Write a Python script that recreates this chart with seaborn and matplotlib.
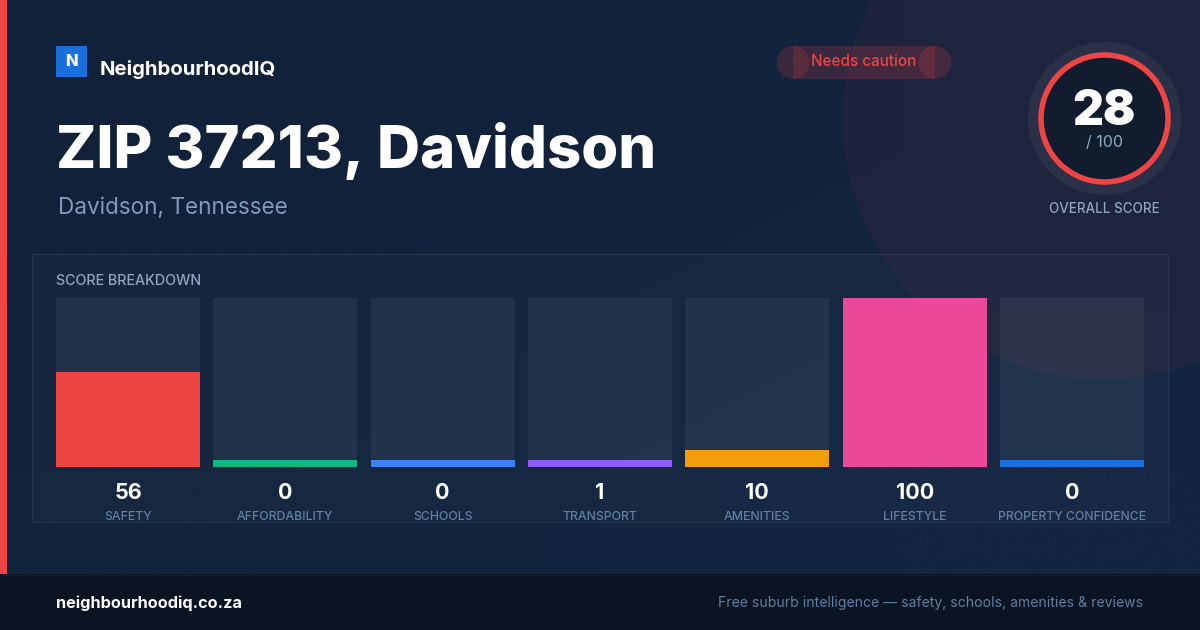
import numpy as np
import pandas as pd
import matplotlib.pyplot as plt
import seaborn as sns
from matplotlib.patches import Circle, Rectangle

categories = ["SAFETY", "AFFORDABILITY", "SCHOOLS", "TRANSPORT", "AMENITIES", "LIFESTYLE", "PROPERTY CONFIDENCE"]
scores = [56, 0, 0, 1, 10, 100, 0]
bar_colors = ["#ef4444", "#10b981", "#3b82f6", "#8b5cf6", "#f59e0b", "#ec4899", "#1a6fdc"]
overall_score = 28
score_max = 100
# short stub so a zero score still shows on the card
min_bar = 4

W, H = 1200, 630
PX = 0.72  # px to pt at dpi 100

sns.set_theme(style="white")
plt.rcParams["font.family"] = ["Inter", "DejaVu Sans"]

fig = plt.figure(figsize=(W / 100, H / 100), dpi=100)
bg = fig.add_axes([0, 0, 1, 1])
bg.axis("off")

# background gradient
grad = np.array([[0.0, 0.5], [0.5, 1.0]])
c0, c1 = np.array([0x12, 0x21, 0x3a]), np.array([0x13, 0x25, 0x41])
img = c0[None, None, :] + (c1 - c0)[None, None, :] * grad[:, :, None]
bg.imshow(img / 255, extent=[0, W, H, 0], aspect="auto", interpolation="bilinear", zorder=0)
bg.set_xlim(0, W)
bg.set_ylim(H, 0)

bg.add_patch(Circle((1103, 119), 260, fc="#ef4444", alpha=0.055, ec="none", zorder=1))

# panel
bg.add_patch(Rectangle((32, 254), 1136, 268, fc="white", alpha=0.02, ec="none", zorder=2))
bg.add_patch(Rectangle((32, 254), 1136, 268, fc="none", ec=(1, 1, 1, 0.07), lw=0.8, zorder=2))

# dot texture
xs, ys = np.meshgrid(np.arange(24, W, 32), np.arange(24, H, 32))
bg.scatter(xs.ravel(), ys.ravel(), s=1.2, c="white", alpha=0.035, linewidths=0, zorder=3)

# accent + footer
bg.add_patch(Rectangle((0, 0), 7, 574, fc="#ef4444", ec="none", zorder=4))
bg.add_patch(Rectangle((0, 574), W, 56, fc="#0a1422", ec="none", zorder=4))
bg.plot([0, W], [574.5, 574.5], color="#14202f", lw=0.8, zorder=5)

# logo + header text
bg.add_patch(Rectangle((56, 46), 31, 31, fc="#1a6fdc", ec="none", zorder=5))
bg.text(71.5, 61, "N", color="white", fontsize=16.5 * PX, fontweight="heavy", ha="center", va="center", zorder=6)
bg.text(100, 75, "NeighbourhoodIQ", color="white", fontsize=20.35 * PX, fontweight="bold", va="baseline", zorder=6)
bg.text(56, 168, "ZIP 37213, Davidson", color="white", fontsize=59.7 * PX, fontweight="heavy", va="baseline", zorder=6)
bg.text(58, 214, "Davidson, Tennessee", color="#7f9abb", fontsize=22.55 * PX, va="baseline", zorder=6)

# pill
bg.add_patch(Rectangle((793, 46), 142, 33, fc="#ef4444", alpha=0.18, ec="none", zorder=5))
for cx in (793, 935):
    bg.add_patch(Circle((cx, 62.5), 16.5, fc="#ef4444", alpha=0.18, ec="none", zorder=5))
bg.text(863.5, 62, "Needs caution", color="#ef4444", fontsize=15.2 * PX, fontweight="medium", ha="center", va="center", zorder=6)

# gauge
bg.add_patch(Circle((1104.5, 118.5), 76.5, fc=(1, 1, 1, 0.055), ec="none", zorder=5))
bg.add_patch(Circle((1104.5, 118.5), 63.5, fc="#111c2e", ec="#ef4444", lw=5.5 * PX, zorder=6))
bg.text(1104, 125, str(overall_score), color="white", fontsize=48 * PX, fontweight="black", ha="center", va="baseline", zorder=7)
bg.text(1104, 147, f"/ {score_max}", color="#8fa6c2", fontsize=16 * PX, ha="center", va="baseline", zorder=7)
bg.text(1104.5, 213, "OVERALL SCORE", color="#8fa6c2", fontsize=13.4 * PX, fontweight="medium", ha="center", va="baseline", zorder=7)

bg.text(56, 285, "SCORE BREAKDOWN", color="#8fa6c2", fontsize=14.3 * PX, fontweight="medium", va="baseline", zorder=6)

# footer text
bg.text(56, 608, "neighbourhoodiq.co.za", color="white", fontsize=16.3 * PX, fontweight="bold", va="baseline", zorder=6)
bg.text(1143, 607, "Free suburb intelligence \u2014 safety, schools, amenities & reviews", color="#5f7fa3",
        fontsize=14 * PX, ha="right", va="baseline", zorder=6)

# score bars, axes placed on the card in pixels
step = (1144 - 56 - 144) / 6
left = 56 + 72 - step / 2
ax = fig.add_axes([left / W, 1 - 467 / H, 7 * step / W, 169 / H], zorder=2)
ax.patch.set_alpha(0)

df = pd.DataFrame({"category": categories, "score": scores, "color": bar_colors})
df["shown"] = df["score"].clip(lower=min_bar)
df["track"] = score_max

sns.barplot(data=df, x="category", y="track", color="white", alpha=0.055, width=144 / step,
            saturation=1, ax=ax, linewidth=0, zorder=1)
sns.barplot(data=df, x="category", y="shown", hue="category", palette=bar_colors, width=144 / step,
            saturation=1, dodge=False, legend=False, ax=ax, linewidth=0, zorder=2)

ax.set_ylim(0, score_max)
ax.set_xlim(-0.5, 6.5)
ax.set_xlabel("")
ax.set_ylabel("")
ax.set_yticks([])
sns.despine(ax=ax, left=True, bottom=True)
ax.tick_params(axis="x", length=0, pad=44 * PX, labelsize=12.3 * PX, colors="#5f7fa3")
for lab in ax.get_xticklabels():
    lab.set_fontweight("medium")

trans = ax.get_xaxis_transform()
for i, val in enumerate(scores):
    ax.text(i, -(499 - 467) / 169, str(val), transform=trans, color="white", fontsize=21.5 * PX,
            fontweight="bold", ha="center", va="baseline", clip_on=False)

fig.savefig("out.png", dpi=100, facecolor="#112038")
plt.close(fig)
